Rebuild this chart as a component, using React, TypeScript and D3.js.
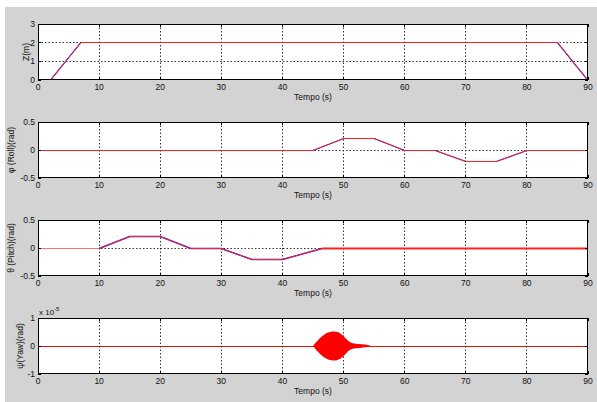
import React from "react";
import * as d3 from "d3";

const timeTicks = [0, 10, 20, 30, 40, 50, 60, 70, 80, 90];

const zTime = [0, 2, 7, 85, 90];
const zRef = [0, 0, 2, 2, 0];

const rollTime = [0, 45, 50, 55, 60, 65, 70, 75, 80, 90];
const rollRef = [0, 0, 0.2, 0.2, 0, 0, -0.2, -0.2, 0, 0];

const pitchTime = [0, 10, 15, 20, 25, 30, 35, 40, 46.5, 90];
const pitchRef = [0, 0, 0.2, 0.2, 0, 0, -0.2, -0.2, 0, 0];

const yawTime = [45, 45.5, 46, 46.5, 47, 47.5, 48, 48.5, 49, 49.5, 50, 50.5, 51, 51.5, 52, 53, 54, 54.5];
const yawAmp = [0, 0.13, 0.25, 0.35, 0.43, 0.48, 0.51, 0.52, 0.5, 0.45, 0.36, 0.24, 0.14, 0.1, 0.08, 0.06, 0.04, 0];

const zTicks = [0, 1, 2, 3];
const angTicks = [-0.5, 0, 0.5];
const yawTicks = [-1, 0, 1];

const yLabels = ["Z(m)", "\u03c6 (Roll)(rad)", "\u03b8 (Pitch)(rad)", "\u03c8(Yaw)(rad)"];
const xLabel = "Tempo (s)";

const W = 597;
const H = 402;
const L = 38;
const R = 588;
const tops = [24, 122, 220, 318];
const PH = 56;
const FONT = "'Liberation Sans', Arial, sans-serif";
const FS = 8.5;

type Sc = d3.ScaleLinear<number, number>;

type PanelProps = {
  top: number;
  domain: [number, number];
  ticks: number[];
  ylabel: string;
  labelX: number;
  children: (x: Sc, y: Sc) => React.ReactNode;
  extra?: React.ReactNode;
};

const px = (v: number) => Math.round(v - 0.5) + 0.5;

function Panel({ top, domain, ticks, ylabel, labelX, children, extra }: PanelProps) {
  const x = d3.scaleLinear().domain([0, 90]).range([L, R]);
  const y = d3.scaleLinear().domain(domain).range([top + PH, top]);
  const bottom = top + PH;
  const clipId = `clip${top}`;
  return (
    <g>
      <rect x={L} y={top} width={R - L} height={PH} fill="#fff" />
      <clipPath id={clipId}>
        <rect x={L} y={top} width={R - L} height={PH} />
      </clipPath>
      {timeTicks.slice(1, -1).map((t) => (
        <line key={"gx" + t} x1={px(x(t))} x2={px(x(t))} y1={top} y2={bottom}
          stroke="#333" strokeWidth={1} strokeDasharray="1.5,2" />
      ))}
      {ticks.slice(1, -1).map((v) => (
        <line key={"gy" + v} x1={L} x2={R} y1={px(y(v))} y2={px(y(v))}
          stroke="#333" strokeWidth={1} strokeDasharray="1.5,2" />
      ))}
      <g clipPath={`url(#${clipId})`}>{children(x, y)}</g>
      <rect x={L + 0.5} y={top + 0.5} width={R - L - 1} height={PH - 1} fill="none" stroke="#000" strokeWidth={1} />
      {timeTicks.map((t) => (
        <g key={"tx" + t}>
          <line x1={px(x(t))} x2={px(x(t))} y1={bottom} y2={bottom - 3} stroke="#000" />
          <line x1={px(x(t))} x2={px(x(t))} y1={top} y2={top + 3} stroke="#000" />
          <text x={x(t)} y={bottom + 10} fontSize={FS} textAnchor="middle" fontFamily={FONT} fill="#111">{t}</text>
        </g>
      ))}
      {ticks.map((v) => (
        <g key={"ty" + v}>
          <line x1={L} x2={L + 3} y1={px(y(v))} y2={px(y(v))} stroke="#000" />
          <line x1={R} x2={R - 3} y1={px(y(v))} y2={px(y(v))} stroke="#000" />
          <text x={L - 3} y={y(v) + 3} fontSize={FS} textAnchor="end" fontFamily={FONT} fill="#111">{String(v)}</text>
        </g>
      ))}
      <text x={(L + R) / 2} y={bottom + 20} fontSize={FS} textAnchor="middle" fontFamily={FONT} fill="#111">{xLabel}</text>
      <text transform={`translate(${labelX},${top + PH / 2}) rotate(-90)`} fontSize={FS} textAnchor="middle"
        fontFamily={FONT} fill="#111">{ylabel}</text>
      {extra}
    </g>
  );
}

function pairs(ts: number[], vs: number[]): [number, number][] {
  return ts.map((t, i) => [t, vs[i]]);
}

const lineOf = (x: Sc, y: Sc) =>
  d3.line<[number, number]>().x((d) => x(d[0])).y((d) => px(y(d[1])));

export default function App() {
  const dual = (ts: number[], vs: number[]) => (x: Sc, y: Sc) => {
    const p = lineOf(x, y)(pairs(ts, vs)) || "";
    return (
      <g>
        <path d={p} fill="none" stroke="#2020ff" strokeWidth={1.2} />
        <path d={p} fill="none" stroke="#ff2020" strokeWidth={1} />
      </g>
    );
  };

  return (
    <svg width={W} height={H} style={{ position: "absolute", left: 0, top: 0, display: "block" }}>
      <rect x={0} y={0} width={W} height={H} fill="#fff" />
      <rect x={5} y={7} width={W - 5} height={H - 7} fill="#d3d3d3" />
      <Panel top={tops[0]} domain={[0, 3]} ticks={zTicks} ylabel={yLabels[0]} labelX={29}>
        {dual(zTime, zRef)}
      </Panel>
      <Panel top={tops[1]} domain={[-0.5, 0.5]} ticks={angTicks} ylabel={yLabels[1]} labelX={14}>
        {dual(rollTime, rollRef)}
      </Panel>
      <Panel top={tops[2]} domain={[-0.5, 0.5]} ticks={angTicks} ylabel={yLabels[2]} labelX={14}>
        {(x, y) => {
          const line = lineOf(x, y);
          const n = pitchTime.length;
          const first = line(pairs(pitchTime.slice(0, 2), pitchRef.slice(0, 2))) || "";
          const mid = line(pairs(pitchTime.slice(1, n - 1), pitchRef.slice(1, n - 1))) || "";
          const tail = line(pairs(pitchTime.slice(n - 2), pitchRef.slice(n - 2))) || "";
          return (
            <g>
              <path d={first} fill="none" stroke="#ff7070" strokeWidth={1} />
              <path d={mid} fill="none" stroke="#2020ff" strokeWidth={1.4} />
              <path d={mid} fill="none" stroke="#ff2020" strokeWidth={1} />
              <path d={tail} fill="none" stroke="#ff2020" strokeWidth={2} />
            </g>
          );
        }}
      </Panel>
      <Panel top={tops[3]} domain={[-1, 1]} ticks={yawTicks} ylabel={yLabels[3]} labelX={23}
        extra={
          <text x={L + 1} y={tops[3] - 3} fontSize={8} fontFamily={FONT} fill="#111">
            x 10<tspan fontSize={6} dy={-4}>-5</tspan>
          </text>
        }>
        {(x, y) => {
          const area = d3.area<number>()
            .x((_, i) => x(yawTime[i]))
            .y0((_, i) => y(-yawAmp[i]))
            .y1((_, i) => y(yawAmp[i]))
            .curve(d3.curveMonotoneX);
          const zero = lineOf(x, y)([[0, 0], [90, 0]]) || "";
          return (
            <g>
              <path d={zero} fill="none" stroke="#e01010" strokeWidth={1} />
              <path d={area(yawAmp) || ""} fill="#ff0000" />
            </g>
          );
        }}
      </Panel>
    </svg>
  );
}
